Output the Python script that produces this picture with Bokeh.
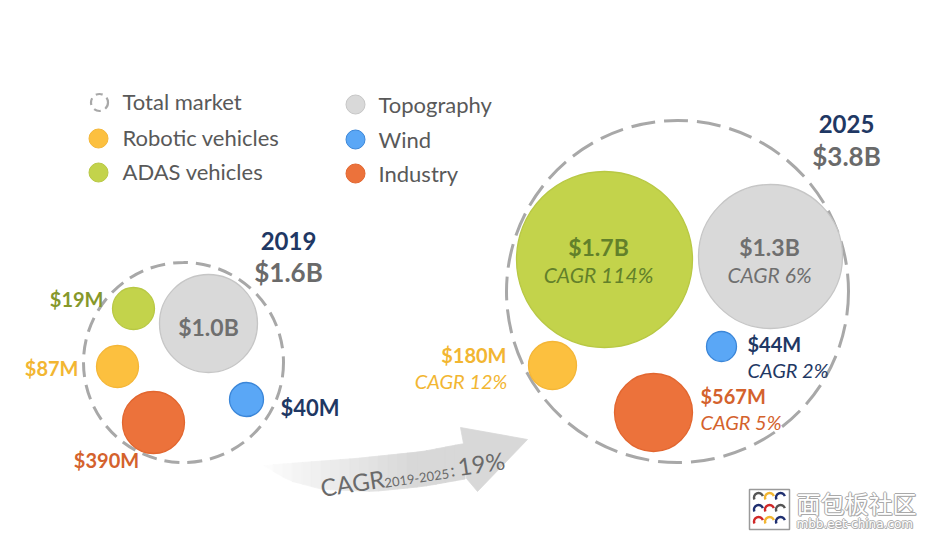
import numpy as np
from bokeh.plotting import figure
from bokeh.models import Range1d, ColumnDataSource
from bokeh.core.properties import value
from bokeh.embed import file_html
from bokeh.resources import INLINE

# ---------------- data ----------------
segments = ["Topography", "Robotic vehicles", "ADAS vehicles", "Wind", "Industry"]
market_2019_musd = [1000, 87, 19, 40, 390]
market_2025_musd = [1300, 180, 1700, 44, 567]
cagr_2019_2025_pct = [6, 12, 114, 2, 5]
years = ["2019", "2025"]
totals_busd = [1.6, 3.8]
total_cagr_pct = 19
cagr_period = "2019-2025"
legend_col1 = ["Total market", "Robotic vehicles", "ADAS vehicles"]
legend_col2 = ["Topography", "Wind", "Industry"]

# ---------------- styles ----------------
FONT = "Lato"
fill = {"Topography": "#d9d9d9", "Robotic vehicles": "#fcc03f", "ADAS vehicles": "#c3d34b",
        "Wind": "#5aa7f6", "Industry": "#ec723b"}
edge = {"Topography": "#c6c6c6", "Robotic vehicles": "#f4b637", "ADAS vehicles": "#b8c844",
        "Wind": "#3b86d8", "Industry": "#e2662f"}
lab = {"Topography": "#6f6f6f", "Robotic vehicles": "#f2b632", "ADAS vehicles": "#86982b",
       "Wind": "#1f3864", "Industry": "#d4622d"}
lab_inside_adas = "#62802a"
NAVY = "#1f3864"
GRAY_T = "#6a6a6a"
LEG_T = "#595959"


def fmt(v):
    return "${:.1f}B".format(v / 1000) if v >= 1000 else "${}M".format(v)


# ---------------- layout (screen-pixel coordinates) ----------------
W, H = 918, 532
p = figure(width=W, height=H, x_range=Range1d(0, W), y_range=Range1d(H, 0),
           output_backend="svg", toolbar_location=None, min_border=0,
           x_axis_location=None, y_axis_location=None)
p.grid.visible = False
p.outline_line_color = None
p.background_fill_color = "white"
p.border_fill_color = "white"


def txt(x, y, s, size, color, align="left", style="normal", font=FONT,
        baseline="middle", angle=0.0):
    p.text(x=[x], y=[y], text=[s], text_font=value(font), text_font_size=f"{size}px",
           text_color=color, text_align=align, text_baseline=baseline,
           text_font_style=style, angle=angle)


# cluster layout: center, radius, bubble offsets/radii, label anchors
clusters = [
    dict(c=(183, 362), R=100, dash="15 8",
         bub={"Topography": (25, -39, 49), "Robotic vehicles": (-66, 4, 21),
              "ADAS vehicles": (-50, -54, 21), "Wind": (63, 37, 17), "Industry": (-30, 60, 31)},
         lbl={"Topography": (208, 326, "center"), "Robotic vehicles": (78, 367, "right"),
              "ADAS vehicles": (103, 298, "right"), "Wind": (280, 407, "left"),
              "Industry": (106, 459, "center")},
         head=(288, 240, 271)),
    dict(c=(677, 291), R=171, dash="24 9",
         bub={"ADAS vehicles": (-73, -32, 88), "Topography": (93, -35, 72),
              "Wind": (44, 55, 15), "Robotic vehicles": (-125, 74, 24), "Industry": (-24, 121, 39)},
         lbl={"ADAS vehicles": (598, 246, "center"), "Topography": (769, 246, "center"),
              "Wind": (747, 343, "left"), "Industry": (700, 395, "left"),
              "Robotic vehicles": (506, 354, "right")},
         head=(846, 123, 155)),
]
label_size = {("2019", "Wind"): 22}

# ---------------- curved arrow (decoration) ----------------
up_x = [263, 288, 355, 422, 463]
up_y = [465, 463, 458, 451, 443]
lo_x = [263, 288, 322, 372, 422, 467]
lo_y = [465, 480, 489, 491, 486, 478]
xs_s = np.linspace(263, 464, 22)
uy = np.interp(xs_s, up_x, up_y)
ly = np.interp(xs_s, lo_x, lo_y)
qx, qy, qc = [], [], []
for i in range(len(xs_s) - 1):
    t = i / (len(xs_s) - 2)
    g = int(252 - 36 * min(1.0, t * 1.3))
    qx.append([xs_s[i], xs_s[i + 1] + 0.6, xs_s[i + 1] + 0.6, xs_s[i]])
    qy.append([uy[i], uy[i + 1], ly[i + 1], ly[i]])
    qc.append("#{0:02x}{0:02x}{0:02x}".format(g))
p.patches(xs=qx, ys=qy, fill_color=qc, line_color=qc, line_width=0.8)
p.patch(x=[460, 527, 477, 466, 463], y=[427, 439, 491, 478, 443],
        fill_color="#d8d8d8", line_color="#d8d8d8", line_width=0.8)

# arrow caption rotated along the arrow
a = 0.15
ux, uy_ = np.cos(a), -np.sin(a)
nx, ny = np.sin(a), np.cos(a)
bx, by = 320, 487
txt(bx, by, "CAGR", 24, GRAY_T, baseline="alphabetic", angle=a)
d1 = 64
txt(bx + ux * d1 + nx * 5, by + uy_ * d1 + ny * 5, cagr_period, 13, GRAY_T,
    baseline="alphabetic", angle=a)
d2 = 131
txt(bx + ux * d2 + nx * 2, by + uy_ * d2 + ny * 2, ":", 18, GRAY_T,
    baseline="alphabetic", angle=a)
d3 = 139
txt(bx + ux * d3, by + uy_ * d3, "{}%".format(total_cagr_pct), 24, GRAY_T,
    baseline="alphabetic", angle=a)

# ---------------- bubbles ----------------
for k, cl in enumerate(clusters):
    cx, cy = cl["c"]
    p.circle(x=[cx], y=[cy], radius=cl["R"], fill_alpha=0, line_color="#a8a8a8",
             line_width=3, line_dash=cl["dash"])
    vals = market_2019_musd if k == 0 else market_2025_musd
    src = ColumnDataSource(dict(
        x=[cx + cl["bub"][s][0] for s in segments],
        y=[cy + cl["bub"][s][1] for s in segments],
        r=[cl["bub"][s][2] for s in segments],
        f=[fill[s] for s in segments],
        e=[edge[s] for s in segments]))
    p.circle(x="x", y="y", radius="r", source=src, fill_color="f", line_color="e",
             line_width=1.3)
    for s, v, cg in zip(segments, vals, cagr_2019_2025_pct):
        lx, ly_, al = cl["lbl"][s]
        col = lab[s]
        if k == 1 and s == "ADAS vehicles":
            col = lab_inside_adas
        big = s in ("Topography", "ADAS vehicles") and (k == 1 or s == "Topography")
        size = 23 if big else label_size.get((years[k], s), 20)
        txt(lx, ly_, fmt(v), size, col, align=al, style="bold")
        if k == 1:
            cxo = lx + (1 if al == "right" else 0)
            txt(cxo, ly_ + (28 if big else 26), "CAGR {}%".format(cg), 21 if big else 20,
                col, align=al, style="italic")
    hx, hy1, hy2 = cl["head"]
    txt(hx, hy1, years[k], 24, NAVY, align="center", style="bold")
    txt(hx, hy2, "${:.1f}B".format(totals_busd[k]), 26, GRAY_T, align="center", style="bold")

# ---------------- legend ----------------
rows1 = [101, 137, 171]
rows2 = [104, 139, 173]
for name, y in zip(legend_col1, rows1):
    if name == "Total market":
        p.circle(x=[99], y=[y + 1], radius=8.5, fill_alpha=0, line_color="#a8a8a8",
                 line_width=2.2, line_dash="7 5")
    else:
        p.circle(x=[98], y=[y + 1], radius=9.5, fill_color=fill[name], line_color=edge[name],
                 line_width=1)
    txt(122, y, name, 22, LEG_T)
for name, y in zip(legend_col2, rows2):
    p.circle(x=[355], y=[y], radius=9.5, fill_color=fill[name], line_color=edge[name],
             line_width=1)
    txt(378, y, name, 22, LEG_T)

# ---------------- watermark ----------------
p.rect(x=[769], y=[509], width=40, height=40, fill_color="white", line_color="#9a9a9a",
       line_width=1.5)
arc_cols = [["#555555", "#f2b632", "#1f2f70"], ["#1f2f70", "#d02828", "#555555"],
            ["#d02828", "#f2b632", "#1f2f70"]]
for i, yy in enumerate([497, 509, 521]):
    for j, xx in enumerate([758, 769, 780]):
        p.arc(x=[xx], y=[yy], radius=4.5, start_angle=0.3, end_angle=3.6,
              line_color=arc_cols[i][j], line_width=2.4)
for dx, dy in [(-1, 0), (1, 0), (0, -1), (0, 1), (1, 1)]:
    txt(796 + dx, 502 + dy, "面包板社区", 24, "#a9a9a9", font="Noto Sans CJK SC")
    txt(796 + dx, 523 + dy, "mbb.eet-china.com", 12, "#b0b0b0", font="DejaVu Sans")
txt(796, 502, "面包板社区", 24, "white", font="Noto Sans CJK SC")
txt(796, 523, "mbb.eet-china.com", 12, "white", font="DejaVu Sans")

open("out.html", "w").write(file_html(p, INLINE))
